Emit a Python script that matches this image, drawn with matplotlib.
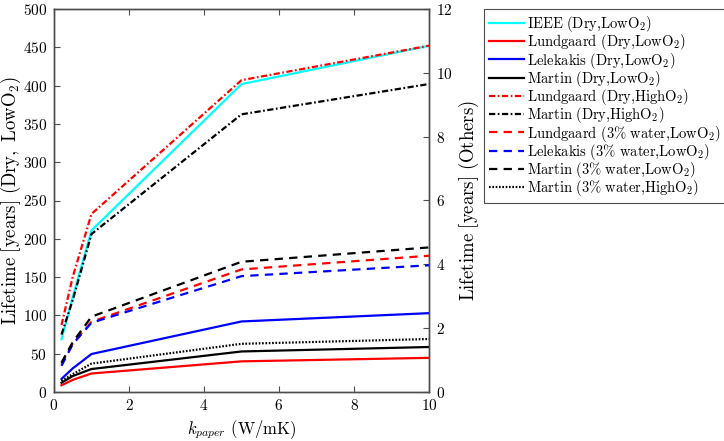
import matplotlib

matplotlib.use("Agg")
import matplotlib.pyplot as plt
import numpy as np

plt.rcParams["font.family"] = "serif"
plt.rcParams["font.serif"] = ["cmr10", "DejaVu Serif"]
plt.rcParams["mathtext.fontset"] = "cm"
plt.rcParams["axes.formatter.use_mathtext"] = True
plt.rcParams["lines.scale_dashes"] = False

# thermal conductivity of paper (W/mK)
k_paper = [0.2, 0.5, 1, 5, 10]

# left axis (years)
ieee_dry_low = [69, 124, 211, 402, 452]

# right axis (years)
lundgaard_dry_low = [0.21, 0.38, 0.58, 0.96, 1.07]
lelekakis_dry_low = [0.41, 0.74, 1.19, 2.21, 2.47]
martin_dry_low = [0.29, 0.50, 0.72, 1.27, 1.41]
lundgaard_dry_high = [2.1, 3.61, 5.58, 9.77, 10.85]
martin_dry_high = [1.8, 2.88, 4.95, 8.7, 9.65]
lundgaard_wet_low = [0.88, 1.52, 2.2, 3.84, 4.27]
lelekakis_wet_low = [0.82, 1.50, 2.17, 3.63, 3.97]
martin_wet_low = [0.92, 1.56, 2.36, 4.08, 4.53]
martin_wet_high = [0.34, 0.56, 0.89, 1.51, 1.66]

DASHDOT = (0, (4.5, 1.8, 1.2, 1.8))
DASHED = (0, (6.0, 4.5))
DOTTED = (0, (1.2, 1.2))
GRAY = "#4d4d4d"


def tex(s, comma_space=False):
    # whole label as upright mathtext so the text box stays tight
    s = s.replace(" ", r"\ ").replace("%", r"\%")
    if not comma_space:
        s = s.replace(",", "{,}")
    return r"$\mathrm{" + s + "}$"


fig = plt.figure(figsize=(7.24, 4.41), dpi=100)
ax = fig.add_axes([54 / 724, 49 / 441, 375 / 724, 383 / 441])
ax2 = ax.twinx()

lw = 1.6
handles = []
handles += ax.plot(k_paper, ieee_dry_low, color="cyan", lw=lw, label=tex("IEEE (Dry,LowO_2)"))
handles += ax2.plot(k_paper, lundgaard_dry_low, color="r", lw=lw, label=tex("Lundgaard (Dry,LowO_2)"))
handles += ax2.plot(k_paper, lelekakis_dry_low, color="b", lw=lw, label=tex("Lelekakis (Dry,LowO_2)"))
handles += ax2.plot(k_paper, martin_dry_low, color="k", lw=lw, label=tex("Martin (Dry,LowO_2)"))
handles += ax2.plot(k_paper, lundgaard_dry_high, color="r", lw=lw, ls=DASHDOT, label=tex("Lundgaard (Dry,HighO_2)"))
handles += ax2.plot(k_paper, martin_dry_high, color="k", lw=lw, ls=DASHDOT, label=tex("Martin (Dry,HighO_2)"))
handles += ax2.plot(k_paper, lundgaard_wet_low, color="r", lw=lw, ls=DASHED, label=tex("Lundgaard (3% water,LowO_2)"))
handles += ax2.plot(k_paper, lelekakis_wet_low, color="b", lw=lw, ls=DASHED, label=tex("Lelekakis (3% water,LowO_2)"))
handles += ax2.plot(k_paper, martin_wet_low, color="k", lw=lw, ls=DASHED, label=tex("Martin (3% water,LowO_2)"))
handles += ax2.plot(k_paper, martin_wet_high, color="k", lw=lw, ls=DOTTED, label=tex("Martin (3% water,HighO_2)"))

ax.set_xlim(0, 10)
ax.set_ylim(0, 500)
ax2.set_ylim(0, 12)
ax.set_xticks(np.arange(0, 11, 2))
ax.set_yticks(np.arange(0, 501, 50))
ax2.set_yticks(np.arange(0, 13, 2))

for a in (ax, ax2):
    for sp in a.spines.values():
        sp.set_color(GRAY)
        sp.set_linewidth(1.0)
    a.tick_params(direction="in", length=4, width=0.8, color=GRAY, labelsize=11, labelcolor="k", pad=5)
ax.tick_params(axis="x", top=True, pad=4)

ax.set_xlabel(r"$k_{paper}$ (W/mK)", fontsize=12)
ax.set_ylabel(tex("Lifetime [years] (Dry, LowO_2)", comma_space=True), fontsize=13.5)
ax.yaxis.set_label_coords(-0.082, 0.5)
ax2.set_ylabel(tex("Lifetime [years] (Others)"), fontsize=13.5, labelpad=3)

leg = fig.legend(
    handles=handles,
    loc="upper left",
    bbox_to_anchor=(484 / 724, 432 / 441),
    fontsize=10.5,
    frameon=True,
    fancybox=False,
    framealpha=1,
    edgecolor=GRAY,
    handlelength=2.4,
    handletextpad=0.2,
    labelspacing=-0.12,
    borderpad=0.35,
    borderaxespad=0,
)
leg.get_frame().set_linewidth(0.8)

fig.savefig("out.png", dpi=100)
